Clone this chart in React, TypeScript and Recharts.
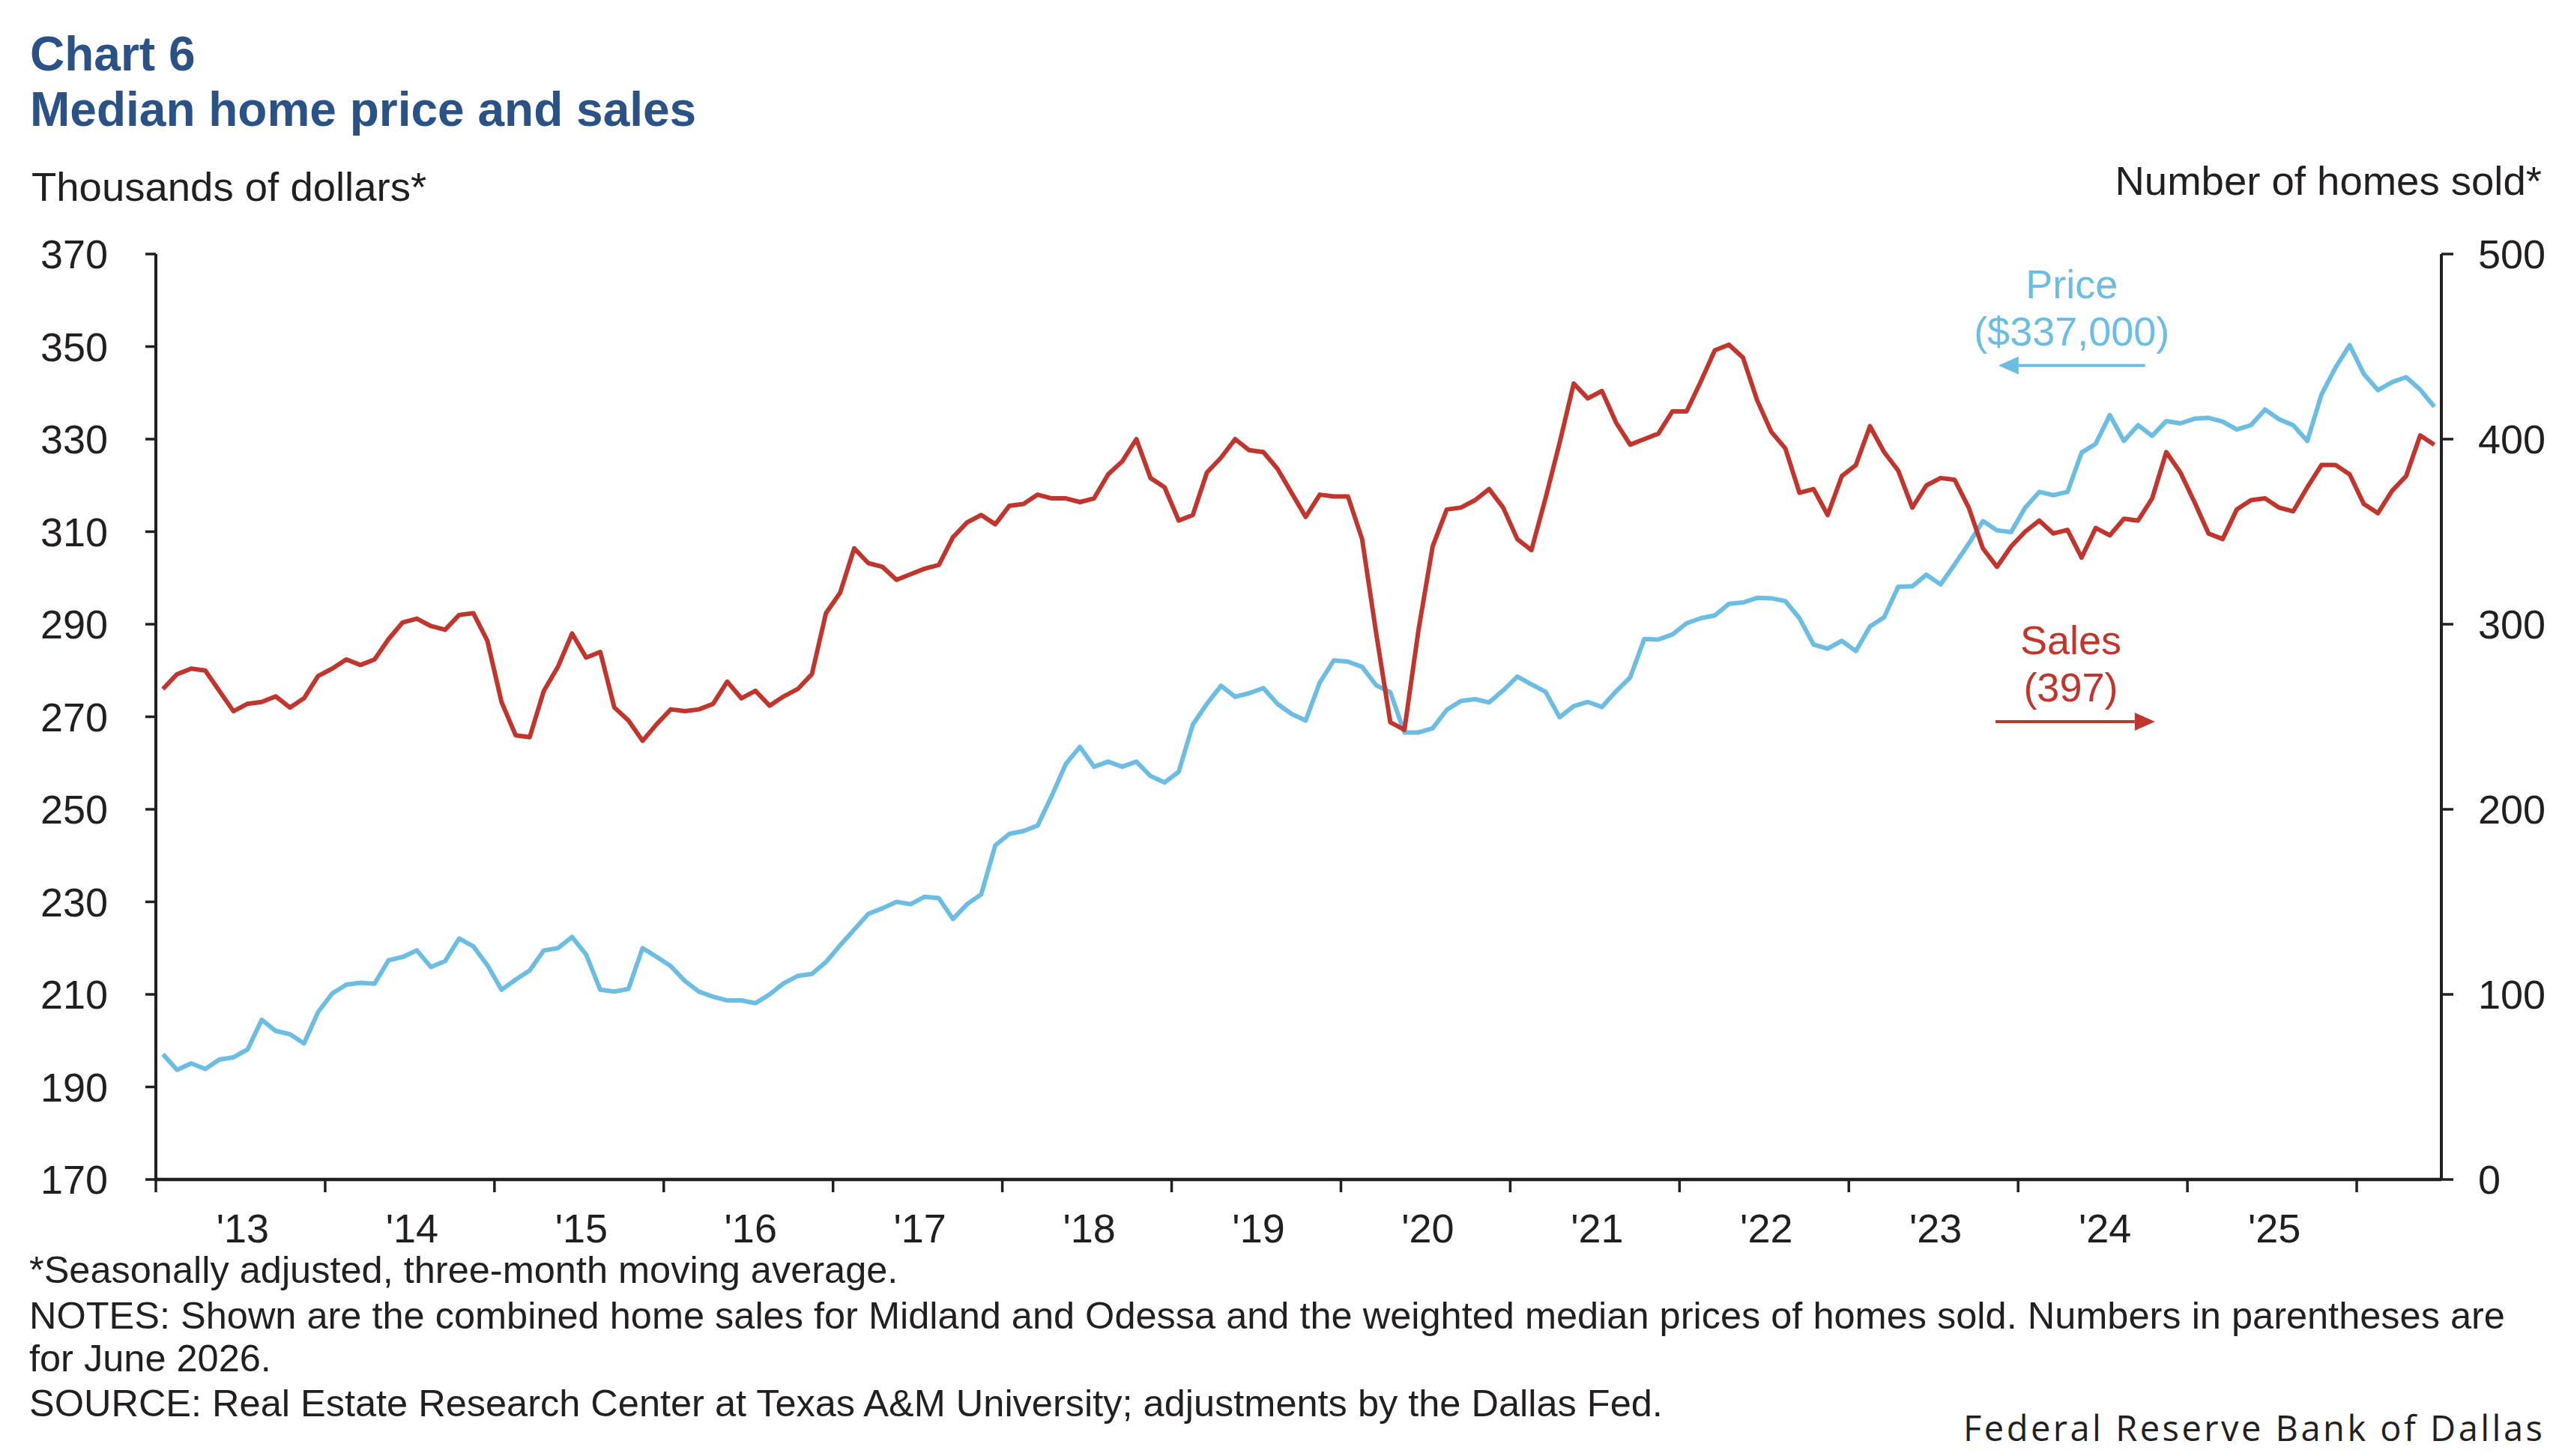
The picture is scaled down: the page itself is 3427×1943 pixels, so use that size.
import React from 'react';
import { LineChart, Line, XAxis, YAxis, ReferenceLine } from 'recharts';

const W = 3427;
const H = 1943;
const FONT = '"Liberation Sans", Arial, Helvetica, sans-serif';
const INK = '#231F20';
const BLUE = '#6CBDE4';
const RED = '#C1352D';
const TITLE = '#2A5286';

// year labels sit in the middle of each year, tick marks on year boundaries
const yearLabels = ["'13", "'14", "'15", "'16", "'17", "'18", "'19", "'20", "'21", "'22", "'23", "'24", "'25"];
const yearBoundaries = [0, 12, 24, 36, 48, 60, 72, 84, 96, 108, 120, 132, 144, 156];
const priceTicks = [170, 190, 210, 230, 250, 270, 290, 310, 330, 350, 370];
const salesTicks = [0, 100, 200, 300, 400, 500];

// monthly, Jan 2013 - Jun 2026, thousands of dollars
const price = [
  197.1, 193.7, 195.1, 193.9, 195.9, 196.4, 198.1, 204.5, 202.1, 201.4, 199.4, 206.2,
  210.2, 212.1, 212.5, 212.3, 217.4, 218.1, 219.5, 215.9, 217.2, 222.1, 220.4, 216.3,
  211.0, 213.2, 215.2, 219.5, 220.0, 222.4, 218.6, 211.0, 210.6, 211.2, 220.0, 218.1,
  216.1, 212.9, 210.6, 209.5, 208.7, 208.7, 208.1, 210.0, 212.4, 214.0, 214.4, 217.0,
  220.6, 224.0, 227.4, 228.6, 230.0, 229.5, 231.1, 230.8, 226.3, 229.5, 231.6, 242.2,
  244.7, 245.3, 246.5, 252.9, 259.8, 263.5, 259.2, 260.3, 259.2, 260.3, 257.2, 255.8,
  258.1, 268.3, 272.8, 276.7, 274.3, 275.1, 276.2, 272.8, 270.6, 269.2, 277.4, 282.2,
  281.9, 280.8, 276.8, 275.3, 266.6, 266.6, 267.5, 271.5, 273.4, 273.8, 273.1, 275.7,
  278.7, 277.0, 275.4, 269.9, 272.3, 273.2, 272.1, 275.5, 278.5, 286.8, 286.7, 287.8,
  290.2, 291.3, 291.9, 294.4, 294.7, 295.7, 295.6, 295.0, 291.3, 285.6, 284.7, 286.4,
  284.2, 289.5, 291.5, 298.1, 298.2, 300.7, 298.6, 302.9, 307.4, 312.3, 310.3, 309.9,
  315.2, 318.6, 317.9, 318.6, 327.1, 329.0, 335.2, 329.6, 333.0, 330.7, 333.9, 333.4,
  334.4, 334.6, 333.8, 332.1, 333.0, 336.4, 334.3, 333.0, 329.6, 339.6, 345.5, 350.3,
  344.1, 340.6, 342.3, 343.4, 340.7, 337.0,
];

// monthly, number of homes sold
const sales = [
  265, 273, 276, 275, 264, 253, 257, 258, 261, 255, 260, 272,
  276, 281, 278, 281, 292, 301, 303, 299, 297, 305, 306, 291,
  258, 240, 239, 264, 277, 295, 282, 285, 255, 248, 237, 246,
  254, 253, 254, 257, 269, 260, 264, 256, 261, 265, 273, 306,
  317, 341, 333, 331, 324, 327, 330, 332, 347, 355, 359, 354,
  364, 365, 370, 368, 368, 366, 368, 381, 388, 400, 379, 374,
  356, 359, 382, 390, 400, 394, 393, 384, 371, 358, 370, 369,
  369, 346, 295, 247, 243, 297, 342, 362, 363, 367, 373, 363,
  346, 340, 368, 398, 430, 422, 426, 409, 397, 400, 403, 415,
  415, 431, 448, 451, 444, 421, 404, 395, 371, 373, 359, 380,
  386, 407, 393, 383, 363, 375, 379, 378, 363, 341, 331, 342,
  350, 356, 349, 351, 336, 352, 348, 357, 356, 368, 393, 382,
  366, 349, 346, 362, 367, 368, 363, 361, 374, 386, 386, 381,
  365, 360, 372, 380, 402, 397,
];

const rows = price.map((p, i) => ({ m: i + 0.5, price: p, sales: sales[i] }));

// boundaries get a tick mark, mid-years get the label
const xTicks = yearBoundaries.flatMap((b, i) => (i < yearLabels.length ? [b, b + 6] : [b]));

const YearTick = (props: any) => {
  const { x, y, payload } = props;
  const v = payload.value;
  if (v % 12 === 0) {
    return <line x1={x} y1={y} x2={x} y2={y + 17} stroke={INK} strokeWidth={3.5} />;
  }
  return (
    <text x={x + 3} y={y + 84} textAnchor="middle" fill={INK} fontSize={54} fontFamily={FONT}>
      {yearLabels[(v - 6) / 12]}
    </text>
  );
};

const Callout = (props: any) => {
  const { x1, y1, x2, y2, color, lines, dx = 0 } = props;
  const dir = x2 > x1 ? 1 : -1;
  const head = 27;
  const half = 12;
  const cx = (x1 + x2) / 2 + dx;
  return (
    <g>
      <line x1={x1} y1={y1} x2={x2 - dir * head} y2={y2} stroke={color} strokeWidth={4} />
      <polygon
        points={`${x2},${y2} ${x2 - dir * head},${y2 - half} ${x2 - dir * head},${y2 + half}`}
        fill={color}
      />
      <text x={cx} y={y1 - 90} textAnchor="middle" fill={color} fontSize={54} fontFamily={FONT}>
        {lines[0]}
      </text>
      <text x={cx} y={y1 - 27} textAnchor="middle" fill={color} fontSize={54} fontFamily={FONT}>
        {lines[1]}
      </text>
    </g>
  );
};

const notes = [
  '*Seasonally adjusted, three-month moving average.',
  'NOTES: Shown are the combined home sales for Midland and Odessa and the weighted median prices of homes sold. Numbers in parentheses are',
  'for June 2026.',
  'SOURCE: Real Estate Research Center at Texas A&M University; adjustments by the Dallas Fed.',
];
const noteBaselines = [1712, 1773, 1830, 1890];

export default function App() {
  return (
    <div style={{ position: 'absolute', left: 0, top: 0, width: W, height: H, background: '#fff' }}>
      <LineChart
        width={W}
        height={H}
        data={rows}
        margin={{ top: 339, right: 0, bottom: 269, left: 0 }}
      >
        <XAxis
          dataKey="m"
          type="number"
          domain={[0, 162]}
          ticks={xTicks}
          interval={0}
          tick={<YearTick />}
          tickLine={false}
          tickSize={0}
          tickMargin={0}
          height={100}
          axisLine={{ stroke: INK, strokeWidth: 4.5 }}
        />
        <YAxis
          yAxisId="price"
          orientation="left"
          domain={[170, 370]}
          ticks={priceTicks}
          interval={0}
          width={208}
          tickSize={14}
          tickMargin={50}
          axisLine={{ stroke: INK, strokeWidth: 4 }}
          tickLine={{ stroke: INK, strokeWidth: 3.5 }}
          tick={{ fill: INK, fontSize: 54, fontFamily: FONT }}
        />
        <YAxis
          yAxisId="sales"
          orientation="right"
          domain={[0, 500]}
          ticks={salesTicks}
          interval={0}
          width={169}
          tickSize={16}
          tickMargin={33}
          axisLine={{ stroke: INK, strokeWidth: 4 }}
          tickLine={{ stroke: INK, strokeWidth: 3.5 }}
          tick={{ fill: INK, fontSize: 54, fontFamily: FONT, textAnchor: 'start' }}
        />
        <Line
          yAxisId="price"
          dataKey="price"
          stroke={BLUE}
          strokeWidth={6}
          dot={false}
          activeDot={false}
          strokeLinejoin="round"
          isAnimationActive={false}
        />
        <Line
          yAxisId="sales"
          dataKey="sales"
          stroke={RED}
          strokeWidth={6}
          dot={false}
          activeDot={false}
          strokeLinejoin="round"
          isAnimationActive={false}
        />
        <ReferenceLine
          yAxisId="price"
          segment={[{ x: 141.0, y: 345.9 }, { x: 130.6, y: 345.9 }]}
          shape={(p: any) => <Callout {...p} color={BLUE} lines={['Price', '($337,000)']} />}
        />
        <ReferenceLine
          yAxisId="sales"
          segment={[{ x: 130.4, y: 247.4 }, { x: 141.7, y: 247.4 }]}
          shape={(p: any) => <Callout {...p} color={RED} dx={-6} lines={['Sales', '(397)']} />}
        />
      </LineChart>
      <svg
        width={W}
        height={H}
        style={{ position: 'absolute', left: 0, top: 0, pointerEvents: 'none' }}
      >
        <text x={40} y={94} fill={TITLE} fontSize={64} fontWeight="bold" fontFamily={FONT}>
          Chart 6
        </text>
        <text x={40} y={168} fill={TITLE} fontSize={64} fontWeight="bold" fontFamily={FONT}>
          Median home price and sales
        </text>
        <text x={42} y={268} fill={INK} fontSize={54.5} fontFamily={FONT}>
          Thousands of dollars*
        </text>
        <text x={3392} y={260} fill={INK} fontSize={54.5} fontFamily={FONT} textAnchor="end">
          Number of homes sold*
        </text>
        {notes.map((t, i) => (
          <text key={i} x={39} y={noteBaselines[i]} fill={INK} fontSize={50.5} fontFamily={FONT}>
            {t}
          </text>
        ))}
        <text
          x={3393}
          y={1923}
          fill={INK}
          fontSize={47}
          fontFamily='"Open Sans", Lato, sans-serif'
          textAnchor="end"
          textLength={773}
          lengthAdjust="spacing"
        >
          Federal Reserve Bank of Dallas
        </text>
      </svg>
    </div>
  );
}
